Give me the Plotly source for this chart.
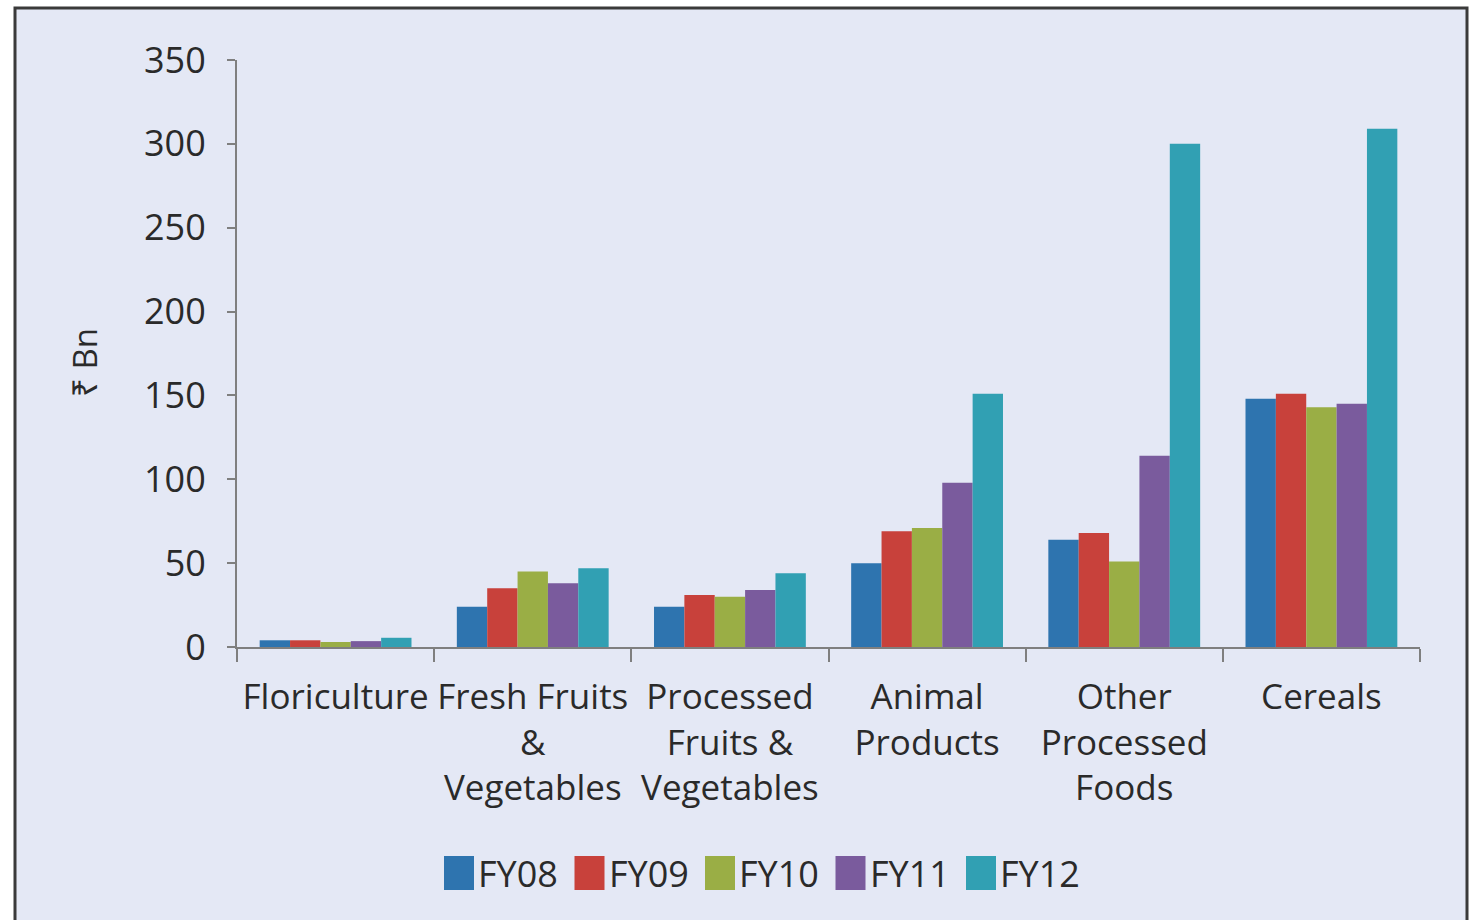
import plotly.graph_objects as go

categories = ["Floriculture", "Fresh Fruits<br>&<br>Vegetables", "Processed<br>Fruits &<br>Vegetables",
              "Animal<br>Products", "Other<br>Processed<br>Foods", "Cereals"]
series_names = ["FY08", "FY09", "FY10", "FY11", "FY12"]
fy08 = [4, 24, 24, 50, 64, 148]
fy09 = [4, 35, 31, 69, 68, 151]
fy10 = [3, 45, 30, 71, 51, 143]
fy11 = [3.5, 38, 34, 98, 114, 145]
fy12 = [5.5, 47, 44, 151, 300, 309]
series_values = [fy08, fy09, fy10, fy11, fy12]
colors = ["#2E74AF", "#C8413B", "#9AAE45", "#7A5B9D", "#31A0B3"]
y_ticks = [0, 50, 100, 150, 200, 250, 300, 350]

W, H = 1470, 920
L, R, T, B = 237, 50, 60, 273
PW, PH = W - L - R, H - T - B


def px(x):
    return (x - L) / PW


def py(y):
    return (H - B - y) / PH


FONT = "Open Sans, Noto Sans, DejaVu Sans, sans-serif"
TXT = "#2a2a2a"

fig = go.Figure()
for name, vals, col in zip(series_names, series_values, colors):
    fig.add_trace(go.Bar(name=name, x=categories, y=vals, marker=dict(color=col, line=dict(width=0)),
                         showlegend=False))

shapes = [dict(type="rect", xref="paper", yref="paper", x0=px(15), x1=px(1467), y0=py(935), y1=py(8),
               line=dict(color="#3a3a3a", width=3), fillcolor="#E4E8F5", layer="below")]
annotations = [dict(text="₹ Bn", xref="paper", yref="paper", x=px(84), y=py(363), textangle=-90,
                    showarrow=False, font=dict(family=FONT, size=33, color=TXT),
                    xanchor="center", yanchor="middle")]

# legend (swatches + labels)
leg_x0, leg_step, sw_w, sw_h, leg_y = 444, 130.5, 30, 34, 873
for i, (name, col) in enumerate(zip(series_names, colors)):
    x0 = leg_x0 + i * leg_step
    shapes.append(dict(type="rect", xref="paper", yref="paper", x0=px(x0), x1=px(x0 + sw_w),
                       y0=py(leg_y + sw_h / 2), y1=py(leg_y - sw_h / 2), fillcolor=col,
                       line=dict(width=0), layer="above"))
    annotations.append(dict(text=name, xref="paper", yref="paper", x=px(x0 + sw_w + 2), y=py(leg_y),
                            xanchor="left", yanchor="middle", showarrow=False,
                            font=dict(family=FONT, size=36, color=TXT)))

fig.update_layout(
    width=W, height=H,
    margin=dict(l=L, r=R, t=T, b=B, pad=0),
    paper_bgcolor="white", plot_bgcolor="rgba(0,0,0,0)",
    barmode="group", bargap=0.23, bargroupgap=0,
    font=dict(family=FONT, color=TXT),
    shapes=shapes, annotations=annotations,
    showlegend=False,
)
fig.update_xaxes(type="category", tickson="boundaries", ticks="outside", ticklen=13, tickwidth=1.5,
                 tickcolor="#7f7f7f", showline=True, linecolor="#7f7f7f", linewidth=2,
                 showgrid=False, tickfont=dict(family=FONT, size=35, color=TXT),
                 tickangle=0, ticklabelstandoff=18)
fig.update_yaxes(range=[0, 350], tickvals=y_ticks, ticks="outside", ticklen=8, tickwidth=1.5,
                 tickcolor="#7f7f7f", showline=True, linecolor="#7f7f7f", linewidth=2,
                 showgrid=False, zeroline=False, tickfont=dict(family=FONT, size=36, color=TXT),
                 ticklabelstandoff=14)

fig.write_html("out.html")
